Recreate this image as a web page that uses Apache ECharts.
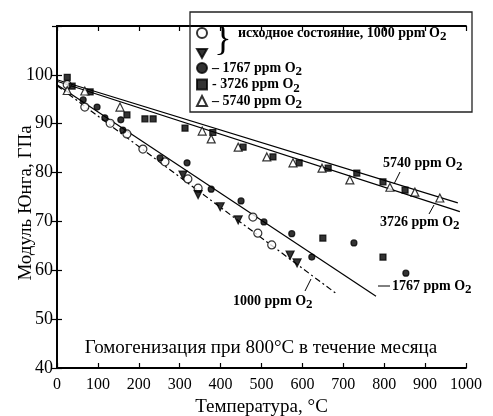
<!DOCTYPE html>
<html>
<head>
<meta charset="utf-8">
<script src="https://cdn.jsdelivr.net/npm/echarts@6/dist/echarts.min.js"></script>
<style>
html, body { margin: 0; padding: 0; background: #fff; }
#main { width: 493px; height: 416px; }
</style>
</head>
<body>
<div id="main"></div>
<script>
// исходное состояние, 1000 ppm O2 (две серии)
var initCircle = [[25, 98.0], [68, 93.4], [130, 90.1], [171, 87.9], [210, 84.8], [264, 82.2], [320, 78.7], [345, 76.8], [479, 70.9], [491, 67.6], [525, 65.2]];
var initTriangle = [[308, 79.5], [345, 75.5], [399, 73.0], [443, 70.3], [570, 63.1], [587, 61.5]];
// 1767, 3726, 5740 ppm O2
var o1767 = [[64, 94.9], [98, 93.4], [117, 91.2], [156, 90.8], [161, 88.7], [252, 83.0], [318, 82.0], [377, 76.6], [450, 74.2], [506, 69.9], [574, 67.5], [623, 62.7], [726, 65.6], [853, 59.4]];
var o3726 = [[25, 99.5], [37, 97.7], [81, 96.5], [171, 91.8], [215, 91.0], [235, 91.0], [313, 89.1], [381, 88.2], [455, 85.2], [528, 83.2], [592, 82.0], [663, 80.9], [733, 79.9], [797, 78.1], [851, 76.4], [650, 66.6], [797, 62.7]];
var o5740 = [[25, 96.8], [68, 96.7], [154, 93.4], [355, 88.5], [377, 86.9], [443, 85.2], [513, 83.2], [577, 82.0], [648, 80.9], [716, 78.5], [814, 77.0], [875, 76.0], [936, 74.8]];
// линии аппроксимации
var fit5740 = [[0, 99.0], [980, 73.8]];
var fit3726 = [[0, 98.7], [985, 72.0]];
var fit1767 = [[0, 98.0], [780, 54.7]];
var fit1000 = [[0, 97.8], [685, 55.1]];

var serif = '"Liberation Serif", "DejaVu Serif", serif';
var myChart = echarts.init(document.getElementById('main'));

var richLeg = {
    t: { fontFamily: serif, fontWeight: 'bold', fontSize: 14, lineHeight: 16, color: '#000' },
    s: { fontFamily: serif, fontWeight: 'bold', fontSize: 13, lineHeight: 8, padding: [8, 0, 0, 0], color: '#000' }
};
var richLab = {
    t: { fontFamily: serif, fontWeight: 'bold', fontSize: 14, lineHeight: 16, fill: '#000' },
    s: { fontFamily: serif, fontWeight: 'bold', fontSize: 13, lineHeight: 8, padding: [8, 0, 0, 0], fill: '#000' }
};

function fitLine(name, data, dash) {
    return {
        name: name, type: 'line', data: data, symbol: 'none', silent: true,
        lineStyle: { color: '#000', width: 1.2, type: dash || 'solid' },
        z: 1
    };
}
function scat(name, data, symbol, size, fill) {
    return {
        name: name, type: 'scatter', data: data, symbol: symbol, symbolSize: size,
        itemStyle: { color: fill, borderColor: '#000', borderWidth: 1.2 },
        z: 3
    };
}

var axisLine = { show: true, lineStyle: { color: '#000', width: 1.8 } };
var tick = { show: true, inside: true, length: 5, lineStyle: { color: '#000', width: 1.2 } };

option = {
    animation: false,
    grid: { left: 57, right: 27, top: 26, bottom: 48, outerBoundsMode: 'none', containLabel: false },
    legend: [{
        data: ['исходное ○', 'исходное ▼'],
        orient: 'vertical', left: 196, top: 27, padding: 0,
        itemWidth: 10, itemHeight: 10, itemGap: 9,
        textStyle: { fontSize: 8 },
        formatter: function () { return ''; }
    }, {
        data: ['1767', '3726', '5740'],
        orient: 'vertical', left: 196, top: 57.5, padding: 0,
        itemWidth: 10, itemHeight: 10, itemGap: -4.5,
        formatter: function (name) {
            var pre = name === '3726' ? '- ' : '– ';
            return '{t|' + pre + name + ' ppm O}{s|2}';
        },
        textStyle: { rich: richLeg }
    }],
    xAxis: [{
        type: 'value', min: 0, max: 1000, interval: 100,
        axisLine: axisLine, axisTick: tick, splitLine: { show: false },
        axisLabel: { fontFamily: serif, fontSize: 16, color: '#000', margin: 9,
            formatter: function (v) { return String(v); } },
        name: 'Температура, °C', nameLocation: 'middle', nameGap: 30,
        nameTextStyle: { fontFamily: serif, fontSize: 19, color: '#000' }
    }, {
        type: 'value', min: 0, max: 1000, interval: 100, position: 'top',
        axisLine: axisLine, axisTick: tick, splitLine: { show: false },
        axisLabel: { show: false }
    }],
    yAxis: [{
        type: 'value', min: 40, max: 110, interval: 10,
        axisLine: axisLine, axisTick: tick, splitLine: { show: false },
        axisLabel: {
            fontFamily: serif, fontSize: 18, color: '#000', margin: 4,
            formatter: function (v) { return v > 100 ? '' : String(v); }
        }
    }, {
        type: 'value', min: 40, max: 110, interval: 10, position: 'right',
        axisLine: axisLine, axisTick: tick, splitLine: { show: false },
        axisLabel: { show: false }
    }],
    series: [
        fitLine('fit5740', fit5740),
        fitLine('fit3726', fit3726),
        fitLine('fit1767', fit1767),
        fitLine('fit1000', fit1000, [6, 3, 2, 3]),
        scat('исходное ○', initCircle, 'circle', 8, '#fff'),
        scat('исходное ▼', initTriangle, 'path://M0,0L10,0L5,9Z', 8, '#000'),
        scat('1767', o1767, 'circle', 6, '#000'),
        scat('3726', o3726, 'rect', 6, '#000'),
        scat('5740', o5740, 'triangle', 8, '#fff')
    ],
    graphic: [
        { type: 'rect', shape: { x: 190, y: 12, width: 282, height: 100 },
          style: { fill: 'rgba(255,255,255,0)', stroke: '#222', lineWidth: 1.3 }, z: 10 },
        { type: 'text', x: 223, y: 41,
          style: { text: '}', fontFamily: serif, fontSize: 36, fill: '#000', align: 'center', verticalAlign: 'middle' }, z: 10 },
        { type: 'text', x: 238, y: 33,
          style: { text: '{t|исходное состояние, 1000 ppm O}{s|2}', rich: richLab, verticalAlign: 'middle' }, z: 10 },
        // подписи линий
        { type: 'text', x: 383, y: 163,
          style: { text: '{t|5740 ppm O}{s|2}', rich: richLab, verticalAlign: 'middle' }, z: 10 },
        { type: 'line', shape: { x1: 400, y1: 172, x2: 394, y2: 184 }, style: { stroke: '#000', lineWidth: 1 }, z: 10 },
        { type: 'text', x: 380, y: 222,
          style: { text: '{t|3726 ppm O}{s|2}', rich: richLab, verticalAlign: 'middle' }, z: 10 },
        { type: 'line', shape: { x1: 434, y1: 205, x2: 429, y2: 214 }, style: { stroke: '#000', lineWidth: 1 }, z: 10 },
        { type: 'line', shape: { x1: 378, y1: 286, x2: 390, y2: 286 }, style: { stroke: '#000', lineWidth: 1 }, z: 10 },
        { type: 'text', x: 392, y: 286,
          style: { text: '{t|1767 ppm O}{s|2}', rich: richLab, verticalAlign: 'middle' }, z: 10 },
        { type: 'line', shape: { x1: 311, y1: 279, x2: 305, y2: 291 }, style: { stroke: '#000', lineWidth: 1 }, z: 10 },
        { type: 'text', x: 233, y: 301,
          style: { text: '{t|1000 ppm O}{s|2}', rich: richLab, verticalAlign: 'middle' }, z: 10 },
        { type: 'text', x: 261, y: 348,
          style: { text: 'Гомогенизация при 800°C в течение месяца', fontFamily: serif, fontSize: 19, fill: '#000', align: 'center', verticalAlign: 'middle' }, z: 10 },
        { type: 'text', x: 26, y: 203, rotation: Math.PI / 2,
          style: { text: 'Модуль Юнга, ГПа', fontFamily: serif, fontSize: 19, fill: '#000', align: 'center', verticalAlign: 'middle' }, z: 10 }
    ]
};

myChart.setOption(option);
</script>
</body>
</html>
